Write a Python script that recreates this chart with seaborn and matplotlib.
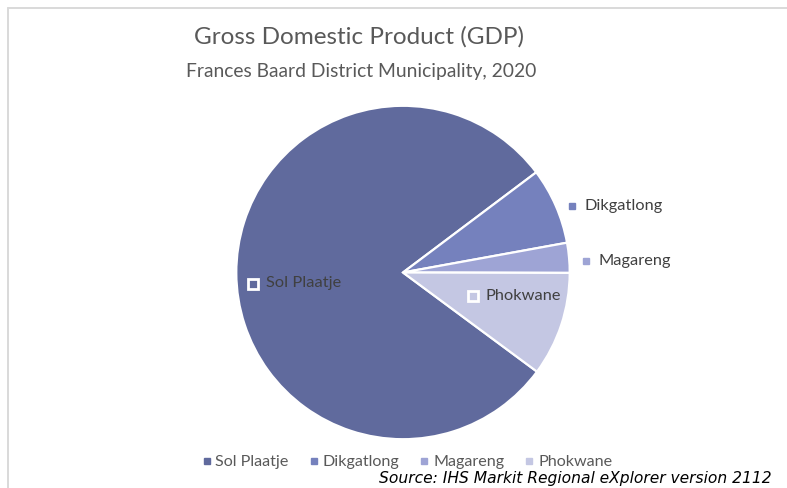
import matplotlib
matplotlib.use("Agg")
import matplotlib.pyplot as plt
from matplotlib.lines import Line2D
import seaborn as sns

# GDP shares by local municipality (%)
municipalities = ["Sol Plaatje", "Dikgatlong", "Magareng", "Phokwane"]
gdp_share = [79.6, 7.4, 2.9, 10.1]
slice_colors = ["#606A9D", "#7581BD", "#9EA4D5", "#C4C7E3"]

title = "Gross Domestic Product (GDP)"
subtitle = "Frances Baard District Municipality, 2020"
source = "Source: IHS Markit Regional eXplorer version 2112"

sns.set_theme(style="white")
plt.rcParams["font.family"] = ["Lato", "DejaVu Sans"]

W, H = 787, 488
fig = plt.figure(figsize=(W / 100, H / 100), dpi=100)
fig.patch.set_facecolor("white")

# Axes covering the whole figure, one data unit = pie radius in pixels
cx, cy, R = 403.0, 272.5, 166.7
ax = fig.add_axes([0, 0, 1, 1])

wedges, _ = ax.pie(
    gdp_share,
    colors=slice_colors,
    startangle=-36.5,
    counterclock=False,
    radius=1.0,
    center=(0, 0),
    wedgeprops=dict(edgecolor="white", linewidth=1.6),
)

ax.set_xlim(-cx / R, (W - cx) / R)
ax.set_ylim((cy - H) / R, cy / R)
ax.set_aspect("equal")
ax.axis("off")


def px(x, y):
    """Pixel position -> data coordinates of the pie axes."""
    return (x - cx) / R, (cy - y) / R


label_color = "#404040"
label_fs = 11.8

# Data labels with their legend keys
label_spots = {
    "Sol Plaatje": (253, 283.5, True),
    "Dikgatlong": (572, 205.5, False),
    "Magareng": (586, 260.5, False),
    "Phokwane": (473, 295.5, True),
}
for name, color in zip(municipalities, slice_colors):
    mx, my, inside = label_spots[name]
    kx, ky = px(mx, my)
    if inside:
        ax.plot(kx, ky, marker="s", markersize=7.5, markerfacecolor=color,
                markeredgecolor="white", markeredgewidth=2.0, linestyle="")
    else:
        ax.plot(kx, ky, marker="s", markersize=4.6, color=color, linestyle="")
    tx, ty = px(mx + 13, my)
    ax.text(tx, ty, name, ha="left", va="center", fontsize=label_fs,
            color=label_color)

# Titles
fig.text(358.5 / W, 1 - 37 / H, title, ha="center", va="center",
         fontsize=17.5, color="#595959")
fig.text(361.5 / W, 1 - 72 / H, subtitle, ha="center", va="center",
         fontsize=13.9, color="#595959")

# Bottom legend
handles = [Line2D([], [], marker="s", linestyle="", color=c, markersize=4.6)
           for c in slice_colors]
fig.legend(handles, municipalities, loc="center",
           bbox_to_anchor=(407 / W, 1 - 462 / H), ncol=4, frameon=False,
           fontsize=11.6, labelcolor="#595959", handlelength=0.6,
           handletextpad=0.25, columnspacing=1.25, borderpad=0)

# Source note
fig.text(772 / W, 1 - 479 / H, source, ha="right", va="center",
         fontsize=11.2, style="italic", color="black", family="DejaVu Sans")

# Chart-area frame (top and left edges)
fig.add_artist(Line2D([7.5 / W, 1], [1 - 7.5 / H, 1 - 7.5 / H],
                      color="#D9D9D9", linewidth=1.4))
fig.add_artist(Line2D([8 / W, 8 / W], [0, 1 - 7.5 / H],
                      color="#D9D9D9", linewidth=1.4))

fig.savefig("out.png", dpi=100, facecolor="white")
